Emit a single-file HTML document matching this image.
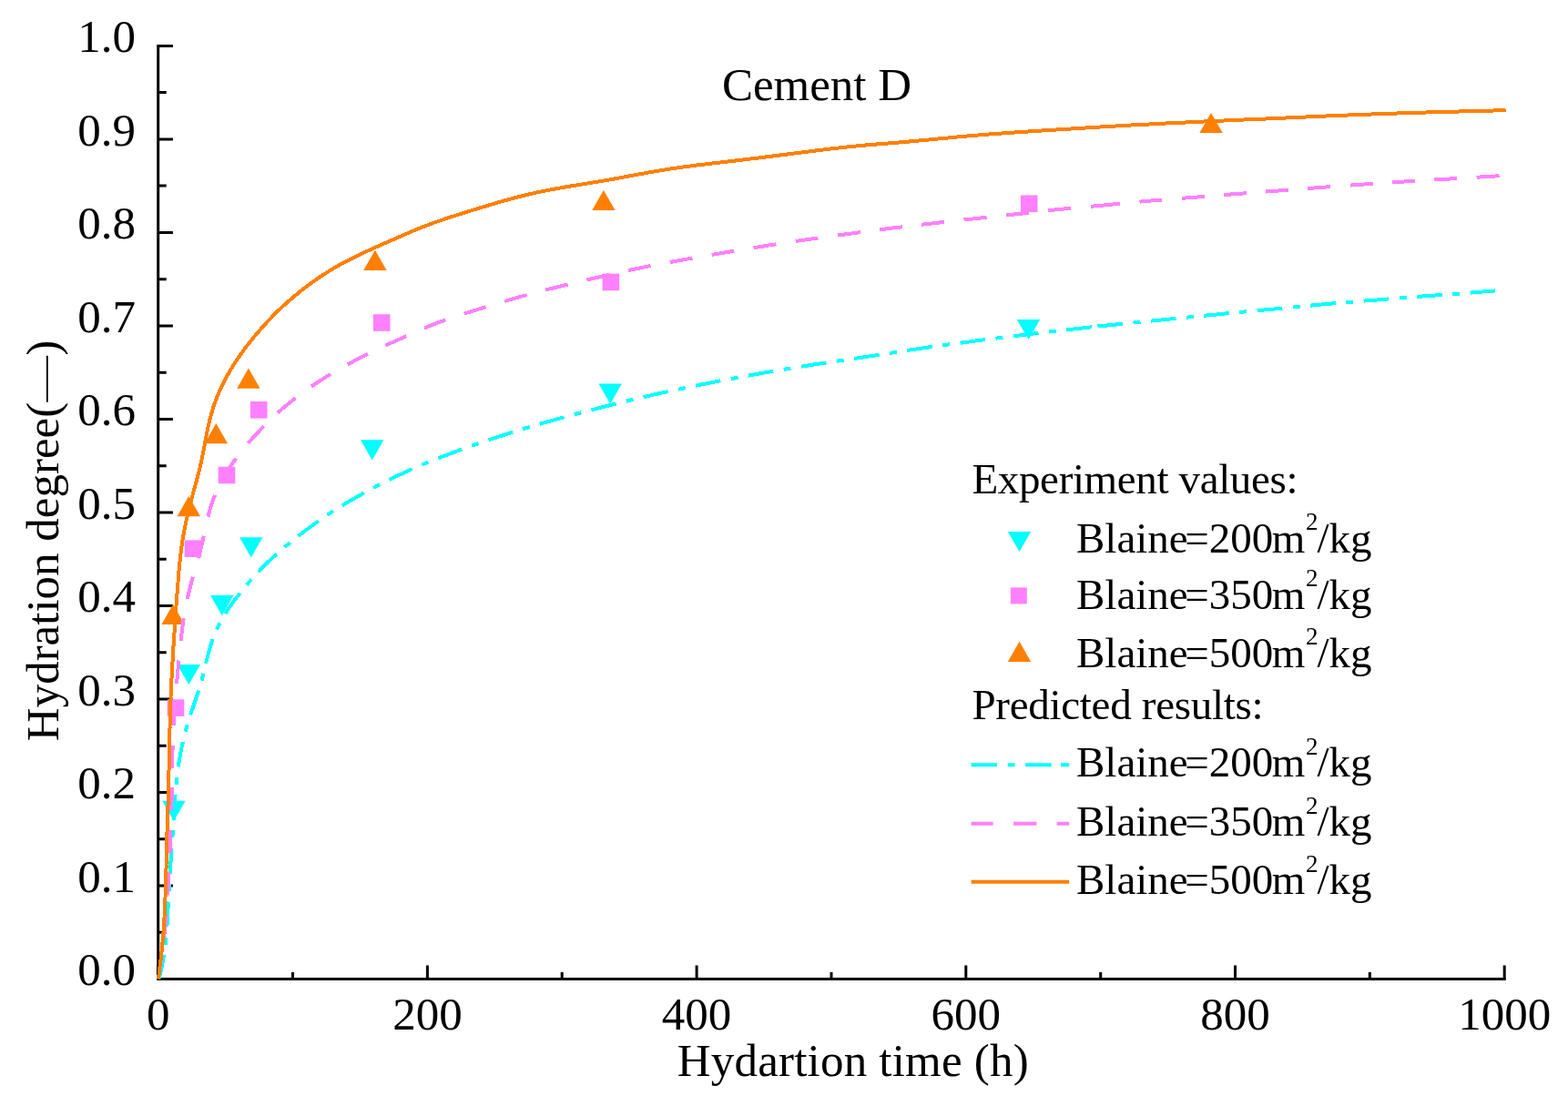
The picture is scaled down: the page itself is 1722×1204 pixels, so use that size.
<!DOCTYPE html>
<html><head><meta charset="utf-8"><title>Cement D</title><style>html,body{margin:0;padding:0;background:#fff;overflow:hidden}svg{display:block}text{font-family:"Liberation Serif", "Times New Roman", serif;fill:#000} .cjk{font-family:"WenQuanYi Zen Hei","Liberation Serif",sans-serif}</style></head><body>
<svg width="1722" height="1204" viewBox="0 0 1722 1204">
<rect width="1722" height="1204" fill="#fff"/>
<path d="M173.7,48.9 V1075.4 H1653.7" stroke="#000" stroke-width="3" fill="none" stroke-linejoin="miter"/>
<path d="M173.7,1075.4 h16.2 M173.7,1024.2 h9.0 M173.7,972.9 h16.2 M173.7,921.7 h9.0 M173.7,870.4 h16.2 M173.7,819.2 h9.0 M173.7,767.9 h16.2 M173.7,716.7 h9.0 M173.7,665.4 h16.2 M173.7,614.2 h9.0 M173.7,562.9 h16.2 M173.7,511.7 h9.0 M173.7,460.4 h16.2 M173.7,409.2 h9.0 M173.7,357.9 h16.2 M173.7,306.7 h9.0 M173.7,255.4 h16.2 M173.7,204.1 h9.0 M173.7,152.9 h16.2 M173.7,101.6 h9.0 M173.7,50.4 h16.2 M173.7,1075.4 v-15.0 M321.5,1075.4 v-7.5 M469.4,1075.4 v-15.0 M617.2,1075.4 v-7.5 M765.1,1075.4 v-15.0 M913.0,1075.4 v-7.5 M1060.8,1075.4 v-15.0 M1208.7,1075.4 v-7.5 M1356.5,1075.4 v-15.0 M1504.3,1075.4 v-7.5 M1652.2,1075.4 v-15.0" stroke="#000" stroke-width="3" fill="none"/>
<polygon points="178.2,879.7 203.6,879.7 190.9,901.9" fill="#00FFFF"/>
<polygon points="194.6,729.9 220.0,729.9 207.3,752.1" fill="#00FFFF"/>
<polygon points="231.1,654.0 256.5,654.0 243.8,676.2" fill="#00FFFF"/>
<polygon points="263.1,590.2 288.5,590.2 275.8,612.4" fill="#00FFFF"/>
<polygon points="396.0,483.3 421.4,483.3 408.7,505.5" fill="#00FFFF"/>
<polygon points="657.5,421.5 682.9,421.5 670.2,443.7" fill="#00FFFF"/>
<polygon points="1116.8,350.9 1142.2,350.9 1129.5,373.1" fill="#00FFFF"/>
<rect x="183.7" y="768.3" width="18.6" height="18.6" fill="#FF80FF"/>
<rect x="202.7" y="593.4" width="18.6" height="18.6" fill="#FF80FF"/>
<rect x="239.7" y="512.7" width="18.6" height="18.6" fill="#FF80FF"/>
<rect x="274.9" y="441.0" width="18.6" height="18.6" fill="#FF80FF"/>
<rect x="409.9" y="345.2" width="18.6" height="18.6" fill="#FF80FF"/>
<rect x="661.6" y="300.6" width="18.6" height="18.6" fill="#FF80FF"/>
<rect x="1120.9" y="214.5" width="18.6" height="18.6" fill="#FF80FF"/>
<polygon points="190.1,663.8 202.8,686.0 177.4,686.0" fill="#FF8000"/>
<polygon points="207.3,545.1 220.0,567.3 194.6,567.3" fill="#FF8000"/>
<polygon points="237.3,465.0 250.0,487.2 224.6,487.2" fill="#FF8000"/>
<polygon points="272.9,404.6 285.6,426.8 260.2,426.8" fill="#FF8000"/>
<polygon points="411.9,274.7 424.6,296.9 399.2,296.9" fill="#FF8000"/>
<polygon points="662.9,208.9 675.6,231.1 650.2,231.1" fill="#FF8000"/>
<polygon points="1330.0,123.9 1342.7,146.1 1317.3,146.1" fill="#FF8000"/>
<g fill="none" stroke-width="4" stroke-linejoin="round" shape-rendering="crispEdges">
<path d="M1652.0,318.6 L1650.0,318.8 L1648.0,318.9 L1646.0,319.1 L1644.0,319.2 L1642.0,319.4 L1640.0,319.6 L1638.0,319.7 L1636.0,319.9 L1634.0,320.0 L1632.1,320.2 L1630.1,320.4 L1628.1,320.5 L1626.1,320.7 L1624.1,320.9 L1622.1,321.0 L1620.1,321.2 L1618.1,321.3 L1616.1,321.5 L1614.1,321.7 L1612.1,321.8 L1610.1,322.0 L1608.1,322.1 L1606.1,322.3 L1604.1,322.4 L1602.1,322.6 L1600.1,322.7 L1598.1,322.9 L1596.1,323.0 L1594.2,323.2 L1592.2,323.3 L1590.2,323.5 L1588.2,323.6 L1586.2,323.8 L1584.2,323.9 L1582.2,324.1 L1580.2,324.2 L1578.2,324.3 L1576.2,324.5 L1574.2,324.6 L1572.2,324.8 L1570.2,324.9 L1568.2,325.1 L1566.2,325.2 L1564.2,325.4 L1562.2,325.5 L1560.2,325.7 L1558.2,325.8 L1556.2,326.0 L1554.2,326.1 L1552.2,326.3 L1550.3,326.4 L1548.3,326.6 L1546.3,326.8 L1544.3,326.9 L1542.3,327.1 L1540.3,327.2 L1538.3,327.4 L1536.3,327.5 L1534.3,327.7 L1532.3,327.9 L1530.3,328.0 L1528.3,328.2 L1526.3,328.3 L1524.3,328.5 L1522.3,328.7 L1520.3,328.8 L1518.3,329.0 L1516.3,329.1 L1514.3,329.3 L1512.4,329.5 L1510.4,329.6 L1508.4,329.8 L1506.4,330.0 L1504.4,330.1 L1502.4,330.3 L1500.4,330.4 L1498.4,330.6 L1496.4,330.8 L1494.4,330.9 L1492.4,331.1 L1490.4,331.3 L1488.4,331.4 L1486.4,331.6 L1484.4,331.7 L1482.4,331.9 L1480.4,332.1 L1478.5,332.2 L1476.5,332.4 L1474.5,332.5 L1472.5,332.7 L1470.5,332.9 L1468.5,333.0 L1466.5,333.2 L1464.5,333.3 L1462.5,333.5 L1460.5,333.7 L1458.5,333.9 L1456.5,334.0 L1454.5,334.2 L1452.5,334.4 L1450.5,334.6 L1448.5,334.7 L1446.6,334.9 L1444.6,335.1 L1442.6,335.3 L1440.6,335.5 L1438.6,335.7 L1436.6,335.9 L1434.6,336.1 L1432.6,336.3 L1430.6,336.5 L1428.6,336.7 L1426.6,336.9 L1424.7,337.1 L1422.7,337.3 L1420.7,337.5 L1418.7,337.6 L1416.7,337.8 L1414.7,338.0 L1412.7,338.2 L1410.7,338.4 L1408.7,338.6 L1406.7,338.8 L1404.7,338.9 L1402.7,339.1 L1400.8,339.3 L1398.8,339.5 L1396.8,339.7 L1394.8,339.8 L1392.8,340.0 L1390.8,340.2 L1388.8,340.4 L1386.8,340.6 L1384.8,340.7 L1382.8,340.9 L1380.8,341.1 L1378.8,341.3 L1376.8,341.5 L1374.8,341.6 L1372.9,341.8 L1370.9,342.0 L1368.9,342.2 L1366.9,342.4 L1364.9,342.6 L1362.9,342.8 L1360.9,343.0 L1358.9,343.2 L1356.9,343.3 L1354.9,343.5 L1352.9,343.7 L1350.9,343.9 L1349.0,344.1 L1347.0,344.3 L1345.0,344.5 L1343.0,344.7 L1341.0,344.9 L1339.0,345.1 L1337.0,345.4 L1335.0,345.6 L1333.0,345.7 L1331.0,345.9 L1329.0,346.1 L1327.1,346.3 L1325.1,346.5 L1323.1,346.7 L1321.1,346.9 L1319.1,347.1 L1317.1,347.3 L1315.1,347.5 L1313.1,347.7 L1311.1,347.9 L1309.1,348.1 L1307.1,348.3 L1305.1,348.5 L1303.2,348.7 L1301.2,348.9 L1299.2,349.1 L1297.2,349.3 L1295.2,349.5 L1293.2,349.7 L1291.2,349.9 L1289.2,350.1 L1287.2,350.3 L1285.2,350.5 L1283.2,350.7 L1281.3,350.9 L1279.3,351.1 L1277.3,351.3 L1275.3,351.5 L1273.3,351.7 L1271.3,351.9 L1269.3,352.1 L1267.3,352.3 L1265.3,352.5 L1263.3,352.7 L1261.3,352.9 L1259.4,353.1 L1257.4,353.3 L1255.4,353.5 L1253.4,353.7 L1251.4,353.9 L1249.4,354.1 L1247.4,354.3 L1245.4,354.5 L1243.4,354.7 L1241.4,354.9 L1239.4,355.1 L1237.5,355.3 L1235.5,355.5 L1233.5,355.7 L1231.5,355.9 L1229.5,356.1 L1227.5,356.3 L1225.5,356.5 L1223.5,356.7 L1221.5,356.9 L1219.5,357.1 L1217.5,357.3 L1215.6,357.5 L1213.6,357.7 L1211.6,357.9 L1209.6,358.1 L1207.6,358.3 L1205.6,358.5 L1203.6,358.8" stroke="#00FFFF" stroke-dasharray="27.86 11.44 7.96 11.44" stroke-dashoffset="49.0"/>
<path d="M1201.6,359.0 L1199.6,359.2 L1197.6,359.4 L1195.7,359.6 L1193.7,359.8 L1191.7,360.1 L1189.7,360.3 L1187.7,360.5 L1185.7,360.7 L1183.7,360.9 L1181.7,361.1 L1179.7,361.4 L1177.8,361.6 L1175.8,361.8 L1173.8,362.0 L1171.8,362.3 L1169.8,362.5 L1167.8,362.7 L1165.8,362.9 L1163.8,363.2 L1161.9,363.4 L1159.9,363.6 L1157.9,363.8 L1155.9,364.1 L1153.9,364.3 L1151.9,364.5 L1149.9,364.8 L1147.9,365.0 L1146.0,365.2 L1144.0,365.5 L1142.0,365.7 L1140.0,366.0 L1138.0,366.2 L1136.0,366.4 L1134.0,366.7 L1132.0,366.9 L1130.1,367.2 L1128.1,367.4 L1126.1,367.6 L1124.1,367.9 L1122.1,368.1 L1120.1,368.4 L1118.1,368.6 L1116.2,368.9 L1114.2,369.1 L1112.2,369.3 L1110.2,369.6 L1108.2,369.8 L1106.2,370.1 L1104.2,370.3 L1102.3,370.6 L1100.3,370.8 L1098.3,371.1 L1096.3,371.3 L1094.3,371.6 L1092.3,371.8 L1090.3,372.1 L1088.4,372.3 L1086.4,372.6 L1084.4,372.8 L1082.4,373.1 L1080.4,373.3 L1078.4,373.6 L1076.4,373.9 L1074.5,374.1 L1072.5,374.4 L1070.5,374.6 L1068.5,374.9 L1066.5,375.2 L1064.5,375.4 L1062.6,375.7 L1060.6,376.0 L1058.6,376.2 L1056.6,376.5 L1054.6,376.7 L1052.6,377.0 L1050.7,377.3 L1048.7,377.5 L1046.7,377.8 L1044.7,378.1 L1042.7,378.3 L1040.7,378.6 L1038.8,378.9 L1036.8,379.2 L1034.8,379.4 L1032.8,379.7 L1030.8,380.0 L1028.8,380.2 L1026.9,380.5 L1024.9,380.8 L1022.9,381.1 L1020.9,381.3 L1018.9,381.6 L1017.0,381.9 L1015.0,382.2 L1013.0,382.5 L1011.0,382.8 L1009.0,383.1 L1007.1,383.3 L1005.1,383.6 L1003.1,383.9 L1001.1,384.2 L999.1,384.5 L997.2,384.8 L995.2,385.2 L993.2,385.5 L991.2,385.8 L989.3,386.1 L987.3,386.4 L985.3,386.7 L983.3,387.0 L981.4,387.3 L979.4,387.6 L977.4,387.9 L975.4,388.2 L973.4,388.5 L971.5,388.9 L969.5,389.2 L967.5,389.5 L965.5,389.8 L963.6,390.1 L961.6,390.4 L959.6,390.7 L957.6,391.0 L955.6,391.3 L953.7,391.6 L951.7,391.9 L949.7,392.2 L947.7,392.5 L945.8,392.8 L943.8,393.1 L941.8,393.4 L939.8,393.7 L937.8,394.0 L935.9,394.3 L933.9,394.6 L931.9,394.8 L929.9,395.1 L927.9,395.4 L926.0,395.7 L924.0,396.0 L922.0,396.3 L920.0,396.6 L918.0,396.9 L916.1,397.2 L914.1,397.5 L912.1,397.8 L910.1,398.0 L908.1,398.3 L906.2,398.6 L904.2,398.9 L902.2,399.2 L900.2,399.5 L898.2,399.8 L896.3,400.1 L894.3,400.4 L892.3,400.7 L890.3,401.0 L888.4,401.3 L886.4,401.7 L884.4,402.0 L882.4,402.3 L880.5,402.6 L878.5,402.9 L876.5,403.2 L874.5,403.5 L872.6,403.9 L870.6,404.2 L868.6,404.5 L866.6,404.8 L864.7,405.2 L862.7,405.5 L860.7,405.8 L858.7,406.2 L856.8,406.5 L854.8,406.8 L852.8,407.2 L850.8,407.5 L848.9,407.8 L846.9,408.2 L844.9,408.5 L843.0,408.9 L841.0,409.2 L839.0,409.5 L837.0,409.9 L835.1,410.2 L833.1,410.6 L831.1,410.9 L829.2,411.3 L827.2,411.7 L825.2,412.0 L823.3,412.4 L821.3,412.7 L819.3,413.1 L817.4,413.5 L815.4,413.8 L813.4,414.2 L811.5,414.6 L809.5,414.9 L807.5,415.3 L805.6,415.7 L803.6,416.0 L801.6,416.4 L799.7,416.8 L797.7,417.1 L795.7,417.5 L793.8,417.9 L791.8,418.2 L789.8,418.6 L787.9,419.0 L785.9,419.4 L783.9,419.7 L782.0,420.1 L780.0,420.5 L778.0,420.9 L776.1,421.3 L774.1,421.7 L772.1,422.1 L770.2,422.4 L768.2,422.8 L766.3,423.2 L764.3,423.7 L762.3,424.1 L760.4,424.5 L758.4,424.9 L756.5,425.3 L754.5,425.7 L752.6,426.1 L750.6,426.5 L748.6,426.9 L746.7,427.3 L744.7,427.8 L742.8,428.2 L740.8,428.6 L738.9,429.0 L736.9,429.4 L734.9,429.9 L733.0,430.3 L731.0,430.7 L729.1,431.1 L727.1,431.5 L725.2,432.0 L723.2,432.4 L721.3,432.8 L719.3,433.3 L717.3,433.7 L715.4,434.1 L713.4,434.6 L711.5,435.0 L709.5,435.5 L707.6,435.9 L705.6,436.4 L703.7,436.8 L701.8,437.3 L699.8,437.8 L697.9,438.2 L695.9,438.7 L694.0,439.2 L692.0,439.6 L690.1,440.1 L688.1,440.6 L686.2,441.1 L684.3,441.5 L682.3,442.0 L680.4,442.5 L678.4,443.0 L676.5,443.5 L674.6,444.0 L672.6,444.5 L670.7,445.0 L668.7,445.4 L666.8,445.9 L664.9,446.4 L662.9,446.9 L661.0,447.4 L659.0,447.9 L657.1,448.4 L655.2,448.9 L653.2,449.4 L651.3,449.9 L649.4,450.4 L647.4,450.8 L645.5,451.3 L643.5,451.8 L641.6,452.4 L639.7,452.9 L637.7,453.4 L635.8,453.9 L633.9,454.4 L631.9,454.9 L630.0,455.4 L628.1,455.9 L626.1,456.5 L624.2,457.0 L622.3,457.5 L620.4,458.1 L618.4,458.6 L616.5,459.1 L614.6,459.6 L612.6,460.2 L610.7,460.7 L608.8,461.3 L606.9,461.8 L604.9,462.3 L603.0,462.9 L601.1,463.4 L599.2,464.0 L597.2,464.5 L595.3,465.1 L593.4,465.6 L591.5,466.2 L589.5,466.7 L587.6,467.3 L585.7,467.8 L583.8,468.4 L581.9,469.0 L579.9,469.6 L578.0,470.1 L576.1,470.7 L574.2,471.3 L572.3,471.9 L570.4,472.5 L568.5,473.1 L566.6,473.7 L564.6,474.3 L562.7,474.9 L560.8,475.5 L558.9,476.1 L557.0,476.7 L555.1,477.3 L553.2,477.9 L551.3,478.5 L549.4,479.1 L547.5,479.7 L545.6,480.4 L543.7,481.0 L541.8,481.6 L539.9,482.2 L538.0,482.9 L536.1,483.5 L534.2,484.1 L532.3,484.8 L530.4,485.4 L528.5,486.1 L526.6,486.7 L524.7,487.4 L522.8,488.0 L520.9,488.7 L519.1,489.3 L517.2,490.0 L515.3,490.7 L513.4,491.4 L511.5,492.0 L509.6,492.7 L507.8,493.4 L505.9,494.1 L504.0,494.8 L502.1,495.5 L500.2,496.2 L498.4,496.9 L496.5,497.5 L494.6,498.3 L492.8,499.0 L490.9,499.7 L489.0,500.4 L487.1,501.1 L485.3,501.8 L483.4,502.5 L481.5,503.3 L479.7,504.0 L477.8,504.7 L476.0,505.5 L474.1,506.2 L472.2,507.0 L470.4,507.7 L468.5,508.5 L466.7,509.2 L464.8,510.0 L463.0,510.8 L461.2,511.6 L459.3,512.3 L457.5,513.1 L455.6,513.9 L453.8,514.7 L452.0,515.5 L450.2,516.3 L448.3,517.2 L446.5,518.0 L444.7,518.8 L442.9,519.7 L441.1,520.5 L439.3,521.4 L437.4,522.2 L435.6,523.1 L433.8,523.9 L432.0,524.8 L430.2,525.7 L428.4,526.6 L426.7,527.5 L424.9,528.4 L423.1,529.3 L421.3,530.2 L419.5,531.1 L417.7,532.0 L415.9,532.9 L414.2,533.8 L412.4,534.8 L410.6,535.7 L408.9,536.6 L407.1,537.6 L405.3,538.5 L403.6,539.5 L401.8,540.4 L400.0,541.4 L398.3,542.3 L396.5,543.3 L394.8,544.3 L393.0,545.3 L391.3,546.2 L389.6,547.2 L387.8,548.2 L386.1,549.2 L384.4,550.2 L382.6,551.2 L380.9,552.3 L379.2,553.3 L377.5,554.3 L375.8,555.3 L374.1,556.4 L372.4,557.4 L370.7,558.5 L369.0,559.6 L367.3,560.6 L365.6,561.7 L363.9,562.8 L362.2,563.9 L360.6,565.0 L358.9,566.1 L357.3,567.2 L355.6,568.4 L353.9,569.5 L352.3,570.6 L350.7,571.8 L349.0,572.9 L347.4,574.1 L345.8,575.2 L344.1,576.4 L342.5,577.6 L340.9,578.8 L339.3,580.0 L337.7,581.1 L336.1,582.3 L334.5,583.5 L332.9,584.8 L331.3,586.0 L329.7,587.2 L328.1,588.4 L326.5,589.6 L325.0,590.9 L323.4,592.1 L321.8,593.4 L320.3,594.6 L318.7,595.9 L317.2,597.2 L315.6,598.5 L314.1,599.7 L312.6,601.0 L311.1,602.3 L309.5,603.6 L308.0,604.9 L306.5,606.3 L305.0,607.6 L303.5,608.9 L302.1,610.3 L300.6,611.6 L299.1,613.0 L297.6,614.3 L296.2,615.7 L294.7,617.1 L293.3,618.5 L291.9,619.9 L290.5,621.3 L289.0,622.7 L287.6,624.1 L286.2,625.6 L284.9,627.0 L283.5,628.5 L282.1,629.9 L280.8,631.4 L279.4,632.9 L278.1,634.4 L276.7,635.9 L275.4,637.4 L274.1,638.9 L272.8,640.4 L271.5,641.9 L270.2,643.4 L268.9,645.0 L267.7,646.5 L266.4,648.1 L265.1,649.6 L263.9,651.2 L262.6,652.8 L261.4,654.4 L260.2,655.9 L259.0,657.5 L257.8,659.1 L256.6,660.7 L255.4,662.3 L254.2,664.0 L253.1,665.6 L251.9,667.3 L250.8,668.9 L249.7,670.6 L248.7,672.2 L247.6,673.9 L246.5,675.6 L245.5,677.3 L244.5,679.1 L243.5,680.8 L242.6,682.5 L241.6,684.3 L240.7,686.1 L239.8,687.8 L239.0,689.6 L238.1,691.4 L237.3,693.2 L236.5,695.1 L235.8,696.9 L235.0,698.7 L234.3,700.6 L233.6,702.5 L233.0,704.3 L232.3,706.2 L231.7,708.1 L231.1,710.0 L230.5,711.9 L230.0,713.8 L229.4,715.7 L228.9,717.7 L228.4,719.6 L227.9,721.5 L227.4,723.5 L226.9,725.4 L226.5,727.3 L226.0,729.3 L225.5,731.2 L225.1,733.2 L224.6,735.1 L224.1,737.0 L223.7,739.0 L223.2,740.9 L222.7,742.8 L222.2,744.8 L221.7,746.7 L221.1,748.6 L220.6,750.5 L220.0,752.5 L219.5,754.4 L218.9,756.3 L218.3,758.2 L217.7,760.1 L217.1,762.0 L216.4,763.9 L215.8,765.8 L215.2,767.6 L214.5,769.5 L213.9,771.4 L213.2,773.3 L212.5,775.2 L211.9,777.1 L211.2,779.0 L210.6,780.8 L209.9,782.7 L209.3,784.6 L208.7,786.5 L208.1,788.4 L207.5,790.3 L206.9,792.2 L206.3,794.1 L205.7,796.1 L205.2,798.0 L204.6,799.9 L204.1,801.8 L203.6,803.8 L203.1,805.7 L202.6,807.6 L202.1,809.6 L201.6,811.5 L201.2,813.5 L200.7,815.4 L200.3,817.4 L199.9,819.3 L199.5,821.3 L199.1,823.2 L198.7,825.2 L198.3,827.1 L198.0,829.1 L197.6,831.1 L197.3,833.1 L197.0,835.0 L196.6,837.0 L196.3,839.0 L196.0,841.0 L195.8,842.9 L195.5,844.9 L195.2,846.9 L195.0,848.9 L194.7,850.9 L194.5,852.9 L194.3,854.8 L194.1,856.8 L193.9,858.8 L193.7,860.8 L193.5,862.8 L193.3,864.8 L193.1,866.8 L192.9,868.8 L192.8,870.8 L192.6,872.8 L192.4,874.8 L192.3,876.8 L192.1,878.8 L192.0,880.8 L191.9,882.8 L191.7,884.8 L191.6,886.8 L191.4,888.8 L191.3,890.7 L191.2,892.7 L191.0,894.7 L190.9,896.7 L190.8,898.7 L190.7,900.7 L190.5,902.7 L190.4,904.7 L190.3,906.7 L190.1,908.7 L190.0,910.7 L189.9,912.7 L189.7,914.7 L189.6,916.7 L189.5,918.7 L189.3,920.7 L189.2,922.7 L189.0,924.7 L188.9,926.7 L188.8,928.7 L188.6,930.7 L188.5,932.7 L188.3,934.7 L188.2,936.7 L188.1,938.7 L187.9,940.7 L187.8,942.7 L187.7,944.7 L187.5,946.7 L187.4,948.7 L187.3,950.7 L187.1,952.7 L187.0,954.7 L186.9,956.7 L186.7,958.7 L186.6,960.7 L186.5,962.7 L186.4,964.7 L186.3,966.6 L186.1,968.6 L186.0,970.6 L185.9,972.6 L185.8,974.6 L185.7,976.6 L185.5,978.6 L185.4,980.6 L185.3,982.6 L185.2,984.6 L185.1,986.6 L185.0,988.6 L184.9,990.6 L184.8,992.6 L184.7,994.6 L184.6,996.6 L184.5,998.6 L184.4,1000.6 L184.3,1002.6 L184.2,1004.6 L184.1,1006.6 L184.0,1008.6 L183.9,1010.6 L183.8,1012.6 L183.6,1014.6 L183.5,1016.6 L183.4,1018.6 L183.2,1020.6 L183.1,1022.6 L182.9,1024.6 L182.7,1026.6 L182.6,1028.6 L182.4,1030.6 L182.2,1032.5 L182.0,1034.5 L181.8,1036.5 L181.5,1038.5 L181.3,1040.5 L181.0,1042.4 L180.7,1044.4 L180.4,1046.4 L180.1,1048.3 L179.8,1050.3 L179.5,1052.3 L179.2,1054.2 L178.8,1056.2 L178.4,1058.1 L178.1,1060.1 L177.7,1062.0 L177.3,1064.0 L176.9,1065.9 L176.4,1067.9 L176.0,1069.8 L175.6,1071.7 L175.1,1073.7 L173.7,1075.4" stroke="#00FFFF" stroke-dasharray="27.93 11.47 7.98 11.47" stroke-dashoffset="56.2"/>
<path d="M1652.0,192.8 L1650.0,193.0 L1648.0,193.1 L1646.0,193.2 L1644.0,193.3 L1642.0,193.5 L1640.0,193.6 L1638.0,193.7 L1636.0,193.8 L1634.0,194.0 L1632.0,194.1 L1630.0,194.2 L1628.0,194.3 L1626.0,194.4 L1624.0,194.6 L1622.1,194.7 L1620.1,194.8 L1618.1,194.9 L1616.1,195.1 L1614.1,195.2 L1612.1,195.3 L1610.1,195.4 L1608.1,195.5 L1606.1,195.6 L1604.1,195.8 L1602.1,195.9 L1600.1,196.0 L1598.1,196.1 L1596.1,196.2 L1594.1,196.4 L1592.1,196.5 L1590.1,196.6 L1588.1,196.7 L1586.1,196.8 L1584.1,197.0 L1582.1,197.1 L1580.1,197.2 L1578.1,197.3 L1576.1,197.4 L1574.1,197.5 L1572.1,197.7 L1570.1,197.8 L1568.1,197.9 L1566.1,198.0 L1564.1,198.1 L1562.1,198.3 L1560.1,198.4 L1558.1,198.5 L1556.2,198.6 L1554.2,198.8 L1552.2,198.9 L1550.2,199.0 L1548.2,199.1 L1546.2,199.3 L1544.2,199.4 L1542.2,199.5 L1540.2,199.6 L1538.2,199.8 L1536.2,199.9 L1534.2,200.0 L1532.2,200.2 L1530.2,200.3 L1528.2,200.4 L1526.2,200.6 L1524.2,200.7 L1522.2,200.8 L1520.2,201.0 L1518.2,201.1 L1516.2,201.2 L1514.2,201.4 L1512.2,201.5 L1510.2,201.6 L1508.2,201.8 L1506.2,201.9 L1504.3,202.1 L1502.3,202.2 L1500.3,202.3 L1498.3,202.5 L1496.3,202.6 L1494.3,202.8 L1492.3,202.9 L1490.3,203.0 L1488.3,203.2 L1486.3,203.3 L1484.3,203.5 L1482.3,203.6 L1480.3,203.8 L1478.3,203.9 L1476.3,204.1 L1474.3,204.2 L1472.3,204.3 L1470.3,204.5 L1468.3,204.6 L1466.3,204.8 L1464.3,204.9 L1462.3,205.1 L1460.4,205.2 L1458.4,205.4 L1456.4,205.5 L1454.4,205.7 L1452.4,205.8 L1450.4,206.0 L1448.4,206.1 L1446.4,206.3 L1444.4,206.4 L1442.4,206.6 L1440.4,206.7 L1438.4,206.9 L1436.4,207.0 L1434.4,207.2 L1432.4,207.4 L1430.4,207.5 L1428.4,207.7 L1426.4,207.8 L1424.4,208.0 L1422.5,208.1 L1420.5,208.3 L1418.5,208.4 L1416.5,208.6 L1414.5,208.7 L1412.5,208.9 L1410.5,209.0 L1408.5,209.2 L1406.5,209.3 L1404.5,209.5 L1402.5,209.6 L1400.5,209.8 L1398.5,209.9 L1396.5,210.1 L1394.5,210.2 L1392.5,210.4 L1390.5,210.5 L1388.5,210.7 L1386.5,210.8 L1384.6,211.0 L1382.6,211.1 L1380.6,211.3 L1378.6,211.4 L1376.6,211.6 L1374.6,211.7 L1372.6,211.9 L1370.6,212.0 L1368.6,212.2 L1366.6,212.4 L1364.6,212.5 L1362.6,212.7 L1360.6,212.8 L1358.6,213.0 L1356.6,213.1 L1354.6,213.3 L1352.6,213.4 L1350.6,213.6 L1348.6,213.8 L1346.7,213.9 L1344.7,214.1 L1342.7,214.2 L1340.7,214.4 L1338.7,214.6 L1336.7,214.7 L1334.7,214.9 L1332.7,215.0 L1330.7,215.2 L1328.7,215.4 L1326.7,215.5 L1324.7,215.7 L1322.7,215.9 L1320.7,216.0 L1318.7,216.2 L1316.7,216.3 L1314.7,216.5 L1312.8,216.6 L1310.8,216.8 L1308.8,217.0 L1306.8,217.1 L1304.8,217.3 L1302.8,217.4 L1300.8,217.6 L1298.8,217.7 L1296.8,217.9 L1294.8,218.0 L1292.8,218.2 L1290.8,218.3 L1288.8,218.5 L1286.8,218.7 L1284.8,218.8 L1282.8,219.0 L1280.8,219.1 L1278.9,219.3 L1276.9,219.4 L1274.9,219.6 L1272.9,219.8 L1270.9,219.9 L1268.9,220.1 L1266.9,220.3 L1264.9,220.4 L1262.9,220.6 L1260.9,220.8 L1258.9,221.0 L1256.9,221.2 L1254.9,221.3 L1252.9,221.5 L1251.0,221.7 L1249.0,221.9 L1247.0,222.1 L1245.0,222.3 L1243.0,222.5 L1241.0,222.7 L1239.0,222.9 L1237.0,223.1 L1235.0,223.3 L1233.0,223.5 L1231.0,223.7 L1229.1,223.9 L1227.1,224.1 L1225.1,224.2 L1223.1,224.4 L1221.1,224.6 L1219.1,224.8 L1217.1,225.0 L1215.1,225.2 L1213.1,225.4 L1211.1,225.6 L1209.1,225.8 L1207.1,226.0 L1205.2,226.1 L1203.2,226.3 L1201.2,226.5 L1199.2,226.7 L1197.2,226.9" stroke="#FF80FF" stroke-dasharray="25.00 21.40" stroke-dashoffset="40.9"/>
<path d="M1229.1,223.9 L1227.1,224.1 L1225.1,224.2 L1223.1,224.4 L1221.1,224.6 L1219.1,224.8 L1217.1,225.0 L1215.1,225.2 L1213.1,225.4 L1211.1,225.6 L1209.1,225.8 L1207.1,226.0 L1205.2,226.1 L1203.2,226.3 L1201.2,226.5 L1199.2,226.7 L1197.2,226.9 L1195.2,227.0 L1193.2,227.2 L1191.2,227.4 L1189.2,227.6 L1187.2,227.8 L1185.2,227.9 L1183.2,228.1 L1181.2,228.3 L1179.3,228.5 L1177.3,228.7 L1175.3,228.9 L1173.3,229.1 L1171.3,229.2 L1169.3,229.4 L1167.3,229.6 L1165.3,229.8 L1163.3,230.0 L1161.3,230.2 L1159.3,230.4 L1157.4,230.6 L1155.4,230.9 L1153.4,231.1 L1151.4,231.3 L1149.4,231.5 L1147.4,231.7 L1145.4,231.9 L1143.4,232.2 L1141.5,232.4 L1139.5,232.6 L1137.5,232.8 L1135.5,233.0 L1133.5,233.3 L1131.5,233.5 L1129.5,233.7 L1127.5,234.0 L1125.5,234.2 L1123.6,234.4 L1121.6,234.6 L1119.6,234.9 L1117.6,235.1 L1115.6,235.3 L1113.6,235.5 L1111.6,235.7 L1109.6,236.0 L1107.7,236.2 L1105.7,236.4 L1103.7,236.6 L1101.7,236.8 L1099.7,237.0 L1097.7,237.3 L1095.7,237.5 L1093.7,237.7 L1091.7,237.9 L1089.8,238.1 L1087.8,238.3 L1085.8,238.5 L1083.8,238.8 L1081.8,239.0 L1079.8,239.2 L1077.8,239.4 L1075.8,239.6 L1073.8,239.8 L1071.9,240.0 L1069.9,240.3 L1067.9,240.5 L1065.9,240.7 L1063.9,240.9 L1061.9,241.1 L1059.9,241.3 L1057.9,241.6 L1055.9,241.8 L1054.0,242.0 L1052.0,242.2 L1050.0,242.4 L1048.0,242.7 L1046.0,242.9 L1044.0,243.1 L1042.0,243.3 L1040.0,243.5 L1038.0,243.8 L1036.1,244.0 L1034.1,244.2 L1032.1,244.4 L1030.1,244.7 L1028.1,244.9 L1026.1,245.1 L1024.1,245.3 L1022.1,245.6 L1020.2,245.8 L1018.2,246.0 L1016.2,246.3 L1014.2,246.5 L1012.2,246.7 L1010.2,247.0 L1008.2,247.2 L1006.2,247.4 L1004.3,247.7 L1002.3,247.9 L1000.3,248.1 L998.3,248.4 L996.3,248.6 L994.3,248.8 L992.3,249.1 L990.4,249.3 L988.4,249.6 L986.4,249.8 L984.4,250.1 L982.4,250.3 L980.4,250.5 L978.4,250.8 L976.5,251.0 L974.5,251.3 L972.5,251.5 L970.5,251.8 L968.5,252.1 L966.5,252.3 L964.6,252.6 L962.6,252.8 L960.6,253.1 L958.6,253.3 L956.6,253.6 L954.6,253.9 L952.7,254.1 L950.7,254.4 L948.7,254.6 L946.7,254.9 L944.7,255.2 L942.7,255.4 L940.8,255.7 L938.8,256.0 L936.8,256.2 L934.8,256.5 L932.8,256.8 L930.8,257.0 L928.9,257.3 L926.9,257.6 L924.9,257.8 L922.9,258.1 L920.9,258.4 L918.9,258.6 L917.0,258.9 L915.0,259.2 L913.0,259.4 L911.0,259.7 L909.0,260.0 L907.1,260.3 L905.1,260.5 L903.1,260.8 L901.1,261.1 L899.1,261.4 L897.1,261.6 L895.2,261.9 L893.2,262.2 L891.2,262.5 L889.2,262.8 L887.2,263.1 L885.3,263.3 L883.3,263.6 L881.3,263.9 L879.3,264.2 L877.3,264.5 L875.4,264.8 L873.4,265.1 L871.4,265.4 L869.4,265.7 L867.5,266.0 L865.5,266.3 L863.5,266.6 L861.5,266.9 L859.5,267.2 L857.6,267.5 L855.6,267.8 L853.6,268.1 L851.6,268.4 L849.7,268.7 L847.7,269.0 L845.7,269.3 L843.7,269.6 L841.7,269.9 L839.8,270.3 L837.8,270.6 L835.8,270.9 L833.8,271.2 L831.9,271.5 L829.9,271.8 L827.9,272.2 L825.9,272.5 L824.0,272.8 L822.0,273.1 L820.0,273.4 L818.0,273.8 L816.1,274.1 L814.1,274.4 L812.1,274.7 L810.1,275.0 L808.2,275.4 L806.2,275.7 L804.2,276.0 L802.3,276.4 L800.3,276.7 L798.3,277.0 L796.3,277.4 L794.4,277.7 L792.4,278.0 L790.4,278.4 L788.4,278.7 L786.5,279.0 L784.5,279.4 L782.5,279.7 L780.6,280.0 L778.6,280.4 L776.6,280.7 L774.6,281.1 L772.7,281.4 L770.7,281.7 L768.7,282.1 L766.8,282.4 L764.8,282.8 L762.8,283.1 L760.8,283.5 L758.9,283.8 L756.9,284.2 L754.9,284.5 L753.0,284.9 L751.0,285.2 L749.0,285.6 L747.1,285.9 L745.1,286.3 L743.1,286.6 L741.2,287.0 L739.2,287.4 L737.2,287.7 L735.3,288.1 L733.3,288.4 L731.3,288.8 L729.4,289.2 L727.4,289.5 L725.4,289.9 L723.5,290.3 L721.5,290.7 L719.5,291.0 L717.6,291.4 L715.6,291.8 L713.6,292.2 L711.7,292.6 L709.7,293.0 L707.8,293.4 L705.8,293.8 L703.8,294.2 L701.9,294.6 L699.9,295.0 L698.0,295.4 L696.0,295.8 L694.0,296.2 L692.1,296.6 L690.1,297.1 L688.2,297.5 L686.2,297.9 L684.3,298.3 L682.3,298.8 L680.4,299.2 L678.4,299.7 L676.5,300.1 L674.5,300.5 L672.6,301.0 L670.6,301.4 L668.7,301.9 L666.7,302.3 L664.8,302.8 L662.8,303.2 L660.9,303.7 L658.9,304.1 L657.0,304.6 L655.0,305.0 L653.1,305.5 L651.1,305.9 L649.2,306.4 L647.2,306.8 L645.3,307.3 L643.3,307.8 L641.4,308.2 L639.4,308.7 L637.5,309.2 L635.5,309.6 L633.6,310.1 L631.6,310.5 L629.7,311.0 L627.8,311.5 L625.8,312.0 L623.9,312.4 L621.9,312.9 L620.0,313.4 L618.0,313.9 L616.1,314.3 L614.2,314.8 L612.2,315.3 L610.3,315.8 L608.3,316.3 L606.4,316.8 L604.5,317.2 L602.5,317.7 L600.6,318.2 L598.6,318.7 L596.7,319.2 L594.8,319.7 L592.8,320.2 L590.9,320.7 L589.0,321.2 L587.0,321.8 L585.1,322.3 L583.2,322.8 L581.2,323.3 L579.3,323.8 L577.4,324.4 L575.4,324.9 L573.5,325.4 L571.6,326.0 L569.7,326.5 L567.7,327.0 L565.8,327.6 L563.9,328.1 L562.0,328.7 L560.0,329.2 L558.1,329.8 L556.2,330.4 L554.3,330.9 L552.4,331.5 L550.4,332.1 L548.5,332.6 L546.6,333.2 L544.7,333.8 L542.8,334.4 L540.9,335.0 L538.9,335.5 L537.0,336.1 L535.1,336.7 L533.2,337.3 L531.3,337.9 L529.4,338.5 L527.5,339.1 L525.6,339.7 L523.6,340.3 L521.7,340.8 L519.8,341.4 L517.9,342.0 L516.0,342.6 L514.1,343.2 L512.2,343.8 L510.3,344.4 L508.4,345.0 L506.5,345.7 L504.6,346.3 L502.7,346.9 L500.8,347.5 L498.9,348.1 L497.0,348.8 L495.1,349.4 L493.2,350.1 L491.3,350.7 L489.4,351.4 L487.5,352.1 L485.7,352.7 L483.8,353.4 L481.9,354.1 L480.0,354.8 L478.2,355.6 L476.3,356.3 L474.5,357.0 L472.6,357.8 L470.8,358.5 L468.9,359.3 L467.1,360.1 L465.2,360.8 L463.4,361.6 L461.6,362.4 L459.7,363.2 L457.9,364.0 L456.1,364.8 L454.3,365.6 L452.4,366.4 L450.6,367.3 L448.8,368.1 L447.0,368.9 L445.1,369.7 L443.3,370.5 L441.5,371.4 L439.7,372.2 L437.8,373.0 L436.0,373.8 L434.2,374.7 L432.4,375.5 L430.5,376.3 L428.7,377.1 L426.9,378.0 L425.1,378.8 L423.3,379.7 L421.5,380.5 L419.6,381.3 L417.8,382.2 L416.0,383.1 L414.2,383.9 L412.4,384.8 L410.6,385.6 L408.8,386.5 L407.0,387.4 L405.2,388.3 L403.4,389.1 L401.6,390.0 L399.8,390.9 L398.0,391.8 L396.2,392.7 L394.5,393.6 L392.7,394.5 L390.9,395.5 L389.1,396.4 L387.4,397.3 L385.6,398.3 L383.8,399.2 L382.1,400.1 L380.3,401.1 L378.6,402.1 L376.8,403.0 L375.1,404.0 L373.3,405.0 L371.6,406.0 L369.8,407.0 L368.1,408.0 L366.4,409.0 L364.7,410.0 L362.9,411.0 L361.2,412.1 L359.5,413.1 L357.8,414.2 L356.1,415.2 L354.5,416.3 L352.8,417.4 L351.1,418.5 L349.4,419.6 L347.7,420.7 L346.1,421.8 L344.4,422.9 L342.8,424.0 L341.1,425.2 L339.5,426.3 L337.9,427.5 L336.2,428.6 L334.6,429.8 L333.0,431.0 L331.4,432.2 L329.8,433.3 L328.2,434.5 L326.6,435.8 L325.0,437.0 L323.4,438.2 L321.8,439.4 L320.3,440.7 L318.7,441.9 L317.1,443.2 L315.6,444.5 L314.1,445.7 L312.5,447.0 L311.0,448.3 L309.5,449.6 L308.0,450.9 L306.5,452.3 L305.0,453.6 L303.5,455.0 L302.1,456.3 L300.6,457.7 L299.1,459.0 L297.7,460.4 L296.2,461.8 L294.8,463.2 L293.4,464.6 L292.0,466.0 L290.5,467.4 L289.1,468.9 L287.7,470.3 L286.3,471.8 L285.0,473.2 L283.6,474.7 L282.2,476.1 L280.9,477.6 L279.5,479.1 L278.1,480.5 L276.8,482.0 L275.5,483.5 L274.1,485.0 L272.8,486.6 L271.5,488.1 L270.2,489.6 L268.9,491.1 L267.7,492.7 L266.4,494.2 L265.1,495.8 L263.9,497.4 L262.7,499.0 L261.5,500.6 L260.2,502.1 L259.1,503.8 L257.9,505.4 L256.7,507.0 L255.6,508.6 L254.4,510.3 L253.3,511.9 L252.2,513.6 L251.1,515.3 L250.0,517.0 L249.0,518.7 L247.9,520.4 L246.9,522.1 L245.9,523.8 L244.9,525.5 L244.0,527.3 L243.0,529.0 L242.1,530.8 L241.2,532.6 L240.3,534.3 L239.4,536.1 L238.6,537.9 L237.8,539.7 L237.0,541.6 L236.2,543.4 L235.5,545.2 L234.8,547.1 L234.1,548.9 L233.4,550.8 L232.8,552.7 L232.2,554.6 L231.6,556.5 L231.0,558.4 L230.4,560.3 L229.9,562.2 L229.4,564.1 L228.9,566.0 L228.4,568.0 L227.9,569.9 L227.5,571.8 L227.0,573.8 L226.6,575.7 L226.2,577.7 L225.8,579.6 L225.4,581.6 L224.9,583.5 L224.5,585.5 L224.1,587.5 L223.7,589.4 L223.2,591.4 L222.8,593.3 L222.3,595.2 L221.9,597.2 L221.4,599.1 L220.9,601.1 L220.4,603.0 L220.0,604.9 L219.4,606.9 L218.9,608.8 L218.4,610.7 L217.9,612.7 L217.3,614.6 L216.8,616.5 L216.3,618.4 L215.7,620.4 L215.2,622.3 L214.6,624.2 L214.0,626.1 L213.5,628.0 L212.9,630.0 L212.4,631.9 L211.8,633.8 L211.3,635.7 L210.8,637.7 L210.3,639.6 L209.8,641.5 L209.2,643.4 L208.8,645.4 L208.3,647.3 L207.8,649.3 L207.3,651.2 L206.9,653.1 L206.4,655.1 L206.0,657.0 L205.6,659.0 L205.2,660.9 L204.8,662.9 L204.4,664.9 L204.0,666.8 L203.6,668.8 L203.3,670.8 L202.9,672.7 L202.6,674.7 L202.2,676.7 L201.9,678.6 L201.6,680.6 L201.3,682.6 L201.0,684.6 L200.7,686.5 L200.5,688.5 L200.2,690.5 L199.9,692.5 L199.7,694.5 L199.4,696.5 L199.2,698.4 L199.0,700.4 L198.7,702.4 L198.5,704.4 L198.3,706.4 L198.1,708.4 L197.9,710.4 L197.7,712.4 L197.5,714.4 L197.3,716.3 L197.1,718.3 L196.9,720.3 L196.7,722.3 L196.5,724.3 L196.3,726.3 L196.2,728.3 L196.0,730.3 L195.8,732.3 L195.6,734.3 L195.4,736.3 L195.2,738.3 L195.0,740.3 L194.8,742.2 L194.7,744.2 L194.5,746.2 L194.3,748.2 L194.1,750.2 L194.0,752.2 L193.8,754.2 L193.6,756.2 L193.5,758.2 L193.3,760.2 L193.1,762.2 L193.0,764.2 L192.8,766.2 L192.7,768.2 L192.5,770.2 L192.4,772.2 L192.2,774.1 L192.1,776.1 L191.9,778.1 L191.8,780.1 L191.6,782.1 L191.5,784.1 L191.4,786.1 L191.2,788.1 L191.1,790.1 L191.0,792.1 L190.9,794.1 L190.7,796.1 L190.6,798.1 L190.5,800.1 L190.4,802.1 L190.3,804.1 L190.2,806.1 L190.1,808.1 L190.0,810.1 L189.9,812.1 L189.8,814.1 L189.7,816.1 L189.7,818.1 L189.6,820.1 L189.5,822.1 L189.5,824.1 L189.4,826.1 L189.4,828.1 L189.3,830.1 L189.3,832.1 L189.2,834.1 L189.2,836.1 L189.2,838.1 L189.1,840.1 L189.1,842.1 L189.1,844.1 L189.1,846.1 L189.0,848.1 L189.0,850.1 L189.0,852.1 L189.0,854.1 L188.9,856.1 L188.9,858.1 L188.9,860.1 L188.8,862.1 L188.8,864.1 L188.8,866.1 L188.7,868.1 L188.7,870.1 L188.6,872.1 L188.6,874.1 L188.6,876.1 L188.5,878.1 L188.5,880.1 L188.4,882.1 L188.3,884.1 L188.3,886.1 L188.2,888.1 L188.2,890.1 L188.1,892.1 L188.0,894.1 L188.0,896.1 L187.9,898.1 L187.9,900.1 L187.8,902.1 L187.7,904.1 L187.7,906.1 L187.6,908.1 L187.5,910.1 L187.4,912.1 L187.4,914.1 L187.3,916.0 L187.2,918.0 L187.1,920.0 L187.1,922.0 L187.0,924.0 L186.9,926.0 L186.8,928.0 L186.7,930.0 L186.7,932.0 L186.6,934.0 L186.5,936.0 L186.4,938.0 L186.3,940.0 L186.2,942.0 L186.1,944.0 L186.0,946.0 L185.9,948.0 L185.8,950.0 L185.8,952.0 L185.7,954.0 L185.6,956.0 L185.5,958.0 L185.3,960.0 L185.2,962.0 L185.1,964.0 L185.0,966.0 L184.9,968.0 L184.8,970.0 L184.7,972.0 L184.6,974.0 L184.4,976.0 L184.3,978.0 L184.2,980.0 L184.1,982.0 L183.9,984.0 L183.8,986.0 L183.7,988.0 L183.5,990.0 L183.4,992.0 L183.2,994.0 L183.1,996.0 L182.9,998.0 L182.8,999.9 L182.6,1001.9 L182.4,1003.9 L182.3,1005.9 L182.1,1007.9 L181.9,1009.9 L181.7,1011.9 L181.5,1013.9 L181.4,1015.9 L181.2,1017.9 L181.0,1019.9 L180.8,1021.9 L180.6,1023.9 L180.3,1025.8 L180.1,1027.8 L179.9,1029.8 L179.7,1031.8 L179.5,1033.8 L179.2,1035.8 L179.0,1037.8 L178.8,1039.7 L178.5,1041.7 L178.3,1043.7 L178.0,1045.7 L177.8,1047.7 L177.5,1049.7 L177.2,1051.7 L177.0,1053.6 L176.7,1055.6 L176.4,1057.6 L176.1,1059.6 L175.9,1061.6 L175.6,1063.5 L175.3,1065.5 L175.0,1067.5 L174.7,1069.5 L174.4,1071.5 L174.2,1073.4 L173.7,1075.4" stroke="#FF80FF" stroke-dasharray="25.12 21.51" stroke-dashoffset="40.2"/>
<path d="M173.7,1075.4 L174.1,1073.4 L174.4,1071.4 L174.7,1069.5 L174.9,1067.5 L175.2,1065.5 L175.4,1063.5 L175.6,1061.5 L175.9,1059.5 L176.1,1057.5 L176.4,1055.6 L176.6,1053.6 L176.8,1051.6 L177.1,1049.6 L177.3,1047.6 L177.5,1045.6 L177.7,1043.6 L177.9,1041.6 L178.1,1039.7 L178.3,1037.7 L178.5,1035.7 L178.7,1033.7 L178.9,1031.7 L179.0,1029.7 L179.2,1027.7 L179.3,1025.7 L179.5,1023.7 L179.6,1021.7 L179.8,1019.7 L179.9,1017.7 L180.0,1015.7 L180.2,1013.7 L180.3,1011.7 L180.4,1009.7 L180.5,1007.7 L180.6,1005.7 L180.7,1003.7 L180.8,1001.7 L180.9,999.7 L181.0,997.7 L181.1,995.7 L181.2,993.7 L181.3,991.7 L181.3,989.7 L181.4,987.7 L181.5,985.7 L181.6,983.7 L181.6,981.7 L181.7,979.7 L181.8,977.7 L181.8,975.7 L181.9,973.7 L182.0,971.7 L182.0,969.7 L182.1,967.7 L182.1,965.7 L182.2,963.7 L182.2,961.7 L182.3,959.7 L182.4,957.7 L182.4,955.7 L182.5,953.7 L182.5,951.7 L182.5,949.7 L182.6,947.7 L182.6,945.7 L182.7,943.7 L182.7,941.7 L182.8,939.7 L182.8,937.7 L182.9,935.7 L182.9,933.7 L183.0,931.7 L183.0,929.7 L183.1,927.7 L183.1,925.7 L183.2,923.7 L183.3,921.7 L183.3,919.7 L183.4,917.7 L183.4,915.7 L183.5,913.7 L183.6,911.7 L183.7,909.7 L183.7,907.7 L183.8,905.7 L183.9,903.7 L183.9,901.7 L184.0,899.7 L184.1,897.7 L184.2,895.7 L184.2,893.7 L184.3,891.7 L184.4,889.7 L184.4,887.7 L184.5,885.7 L184.6,883.7 L184.6,881.7 L184.7,879.7 L184.7,877.7 L184.8,875.7 L184.8,873.7 L184.9,871.7 L185.0,869.7 L185.0,867.7 L185.0,865.7 L185.1,863.7 L185.1,861.7 L185.2,859.7 L185.2,857.7 L185.3,855.7 L185.3,853.7 L185.4,851.7 L185.4,849.7 L185.4,847.7 L185.5,845.7 L185.5,843.7 L185.6,841.7 L185.6,839.7 L185.6,837.7 L185.7,835.7 L185.7,833.7 L185.8,831.7 L185.8,829.7 L185.8,827.7 L185.9,825.7 L185.9,823.7 L186.0,821.7 L186.0,819.7 L186.0,817.7 L186.1,815.7 L186.1,813.7 L186.2,811.7 L186.2,809.7 L186.3,807.7 L186.3,805.7 L186.4,803.7 L186.4,801.7 L186.5,799.7 L186.5,797.7 L186.6,795.7 L186.6,793.7 L186.7,791.7 L186.7,789.7 L186.8,787.7 L186.8,785.7 L186.9,783.7 L187.0,781.7 L187.0,779.7 L187.1,777.7 L187.2,775.7 L187.2,773.7 L187.3,771.7 L187.4,769.7 L187.5,767.7 L187.5,765.7 L187.6,763.7 L187.7,761.7 L187.8,759.7 L187.9,757.7 L188.0,755.7 L188.1,753.7 L188.1,751.7 L188.2,749.7 L188.3,747.7 L188.4,745.7 L188.6,743.7 L188.7,741.7 L188.8,739.7 L188.9,737.7 L189.0,735.7 L189.1,733.7 L189.2,731.7 L189.3,729.7 L189.4,727.7 L189.6,725.7 L189.7,723.7 L189.8,721.7 L189.9,719.7 L190.0,717.7 L190.2,715.7 L190.3,713.7 L190.4,711.7 L190.5,709.7 L190.7,707.7 L190.8,705.7 L190.9,703.7 L191.1,701.7 L191.2,699.7 L191.3,697.7 L191.4,695.7 L191.6,693.7 L191.7,691.7 L191.8,689.7 L192.0,687.7 L192.1,685.7 L192.2,683.7 L192.4,681.7 L192.5,679.7 L192.6,677.7 L192.8,675.7 L192.9,673.7 L193.0,671.7 L193.2,669.8 L193.3,667.8 L193.5,665.8 L193.6,663.8 L193.8,661.8 L193.9,659.8 L194.1,657.8 L194.2,655.8 L194.4,653.8 L194.5,651.8 L194.7,649.8 L194.8,647.8 L195.0,645.8 L195.1,643.8 L195.3,641.8 L195.5,639.8 L195.6,637.8 L195.8,635.8 L195.9,633.8 L196.1,631.8 L196.3,629.8 L196.4,627.8 L196.6,625.8 L196.8,623.9 L197.0,621.9 L197.2,619.9 L197.4,617.9 L197.6,615.9 L197.8,613.9 L198.0,611.9 L198.2,609.9 L198.5,607.9 L198.7,606.0 L199.0,604.0 L199.3,602.0 L199.5,600.0 L199.8,598.0 L200.1,596.1 L200.4,594.1 L200.7,592.1 L201.1,590.1 L201.4,588.2 L201.7,586.2 L202.1,584.2 L202.5,582.3 L202.8,580.3 L203.2,578.3 L203.6,576.4 L204.0,574.4 L204.4,572.5 L204.9,570.5 L205.3,568.6 L205.8,566.6 L206.2,564.7 L206.7,562.7 L207.1,560.8 L207.6,558.8 L208.1,556.9 L208.6,554.9 L209.1,553.0 L209.6,551.1 L210.1,549.1 L210.6,547.2 L211.2,545.3 L211.7,543.3 L212.2,541.4 L212.7,539.5 L213.3,537.5 L213.8,535.6 L214.3,533.7 L214.8,531.8 L215.4,529.8 L215.9,527.9 L216.4,526.0 L216.9,524.0 L217.4,522.1 L217.9,520.2 L218.4,518.2 L218.9,516.3 L219.4,514.3 L219.8,512.4 L220.3,510.5 L220.7,508.5 L221.2,506.6 L221.6,504.6 L222.0,502.6 L222.4,500.7 L222.8,498.7 L223.2,496.8 L223.6,494.8 L223.9,492.8 L224.3,490.9 L224.7,488.9 L225.1,486.9 L225.4,485.0 L225.8,483.0 L226.2,481.0 L226.5,479.1 L226.9,477.1 L227.3,475.1 L227.7,473.2 L228.1,471.2 L228.5,469.3 L228.9,467.3 L229.4,465.4 L229.8,463.4 L230.3,461.5 L230.8,459.5 L231.3,457.6 L231.8,455.7 L232.4,453.8 L232.9,451.8 L233.5,449.9 L234.1,448.0 L234.7,446.1 L235.3,444.2 L236.0,442.4 L236.7,440.5 L237.4,438.6 L238.1,436.7 L238.8,434.9 L239.6,433.0 L240.4,431.2 L241.2,429.4 L242.0,427.6 L242.9,425.7 L243.7,423.9 L244.6,422.1 L245.5,420.4 L246.4,418.6 L247.3,416.8 L248.3,415.0 L249.2,413.3 L250.2,411.5 L251.2,409.8 L252.2,408.1 L253.2,406.3 L254.2,404.6 L255.3,402.9 L256.3,401.2 L257.4,399.5 L258.5,397.8 L259.6,396.2 L260.7,394.5 L261.8,392.8 L263.0,391.2 L264.1,389.6 L265.3,387.9 L266.4,386.3 L267.6,384.7 L268.8,383.1 L270.0,381.5 L271.2,379.9 L272.5,378.3 L273.7,376.7 L274.9,375.2 L276.2,373.6 L277.5,372.0 L278.7,370.5 L280.0,369.0 L281.3,367.4 L282.6,365.9 L283.9,364.4 L285.2,362.9 L286.5,361.4 L287.8,359.9 L289.2,358.4 L290.5,356.9 L291.9,355.4 L293.2,353.9 L294.6,352.5 L295.9,351.0 L297.3,349.6 L298.7,348.1 L300.1,346.7 L301.5,345.3 L302.9,343.8 L304.3,342.4 L305.7,341.1 L307.2,339.7 L308.6,338.3 L310.1,336.9 L311.6,335.6 L313.0,334.2 L314.5,332.9 L316.0,331.6 L317.5,330.3 L319.1,329.0 L320.6,327.7 L322.1,326.4 L323.6,325.1 L325.2,323.8 L326.7,322.6 L328.3,321.3 L329.8,320.0 L331.4,318.8 L333.0,317.6 L334.6,316.3 L336.2,315.1 L337.8,313.9 L339.4,312.7 L341.0,311.5 L342.6,310.4 L344.2,309.2 L345.9,308.0 L347.5,306.9 L349.1,305.8 L350.8,304.6 L352.5,303.5 L354.1,302.4 L355.8,301.3 L357.5,300.3 L359.2,299.2 L360.9,298.1 L362.6,297.1 L364.3,296.0 L366.0,295.0 L367.7,294.0 L369.5,293.0 L371.2,292.0 L372.9,291.0 L374.7,290.0 L376.4,289.1 L378.2,288.1 L380.0,287.2 L381.7,286.3 L383.5,285.4 L385.3,284.4 L387.1,283.5 L388.9,282.7 L390.7,281.8 L392.5,280.9 L394.3,280.0 L396.1,279.2 L397.9,278.3 L399.7,277.5 L401.5,276.6 L403.3,275.8 L405.2,275.0 L407.0,274.1 L408.8,273.3 L410.6,272.5 L412.5,271.7 L414.3,270.9 L416.1,270.1 L418.0,269.2 L419.8,268.4 L421.6,267.6 L423.5,266.8 L425.3,266.0 L427.1,265.2 L429.0,264.4 L430.8,263.6 L432.6,262.8 L434.5,262.0 L436.3,261.2 L438.1,260.4 L440.0,259.6 L441.8,258.8 L443.6,258.0 L445.5,257.2 L447.3,256.4 L449.1,255.6 L451.0,254.8 L452.8,254.0 L454.7,253.2 L456.5,252.5 L458.4,251.7 L460.2,250.9 L462.1,250.2 L463.9,249.5 L465.8,248.7 L467.6,248.0 L469.5,247.3 L471.4,246.6 L473.2,245.9 L475.1,245.2 L477.0,244.5 L478.9,243.9 L480.8,243.2 L482.7,242.6 L484.6,241.9 L486.5,241.3 L488.4,240.6 L490.2,240.0 L492.1,239.4 L494.0,238.8 L496.0,238.1 L497.9,237.5 L499.8,236.9 L501.7,236.3 L503.6,235.7 L505.5,235.1 L507.4,234.5 L509.3,233.9 L511.2,233.3 L513.1,232.7 L515.0,232.1 L516.9,231.5 L518.9,230.9 L520.8,230.3 L522.7,229.7 L524.6,229.1 L526.5,228.5 L528.4,228.0 L530.3,227.4 L532.3,226.8 L534.2,226.2 L536.1,225.6 L538.0,225.1 L539.9,224.5 L541.9,223.9 L543.8,223.4 L545.7,222.8 L547.6,222.2 L549.5,221.7 L551.5,221.1 L553.4,220.6 L555.3,220.1 L557.3,219.5 L559.2,219.0 L561.1,218.5 L563.0,217.9 L565.0,217.4 L566.9,216.9 L568.9,216.4 L570.8,215.9 L572.7,215.4 L574.7,214.9 L576.6,214.5 L578.6,214.0 L580.5,213.5 L582.5,213.1 L584.4,212.6 L586.3,212.2 L588.3,211.7 L590.3,211.3 L592.2,210.9 L594.2,210.5 L596.1,210.1 L598.1,209.7 L600.0,209.3 L602.0,208.9 L604.0,208.5 L605.9,208.1 L607.9,207.8 L609.9,207.4 L611.8,207.0 L613.8,206.7 L615.8,206.3 L617.7,206.0 L619.7,205.7 L621.7,205.3 L623.7,205.0 L625.6,204.7 L627.6,204.3 L629.6,204.0 L631.6,203.7 L633.5,203.4 L635.5,203.0 L637.5,202.7 L639.5,202.4 L641.4,202.1 L643.4,201.8 L645.4,201.5 L647.4,201.1 L649.4,200.8 L651.3,200.5 L653.3,200.2 L655.3,199.9 L657.3,199.5 L659.2,199.2 L661.2,198.9 L663.2,198.5 L665.1,198.2 L667.1,197.8 L669.1,197.5 L671.1,197.1 L673.0,196.8 L675.0,196.4 L677.0,196.0 L678.9,195.7 L680.9,195.3 L682.9,195.0 L684.8,194.6 L686.8,194.2 L688.8,193.8 L690.7,193.5 L692.7,193.1 L694.7,192.7 L696.6,192.4 L698.6,192.0 L700.6,191.6 L702.5,191.3 L704.5,190.9 L706.5,190.6 L708.4,190.2 L710.4,189.8 L712.4,189.5 L714.4,189.1 L716.3,188.8 L718.3,188.5 L720.3,188.1 L722.2,187.8 L724.2,187.5 L726.2,187.1 L728.2,186.8 L730.1,186.5 L732.1,186.2 L734.1,185.9 L736.1,185.5 L738.1,185.2 L740.0,185.0 L742.0,184.7 L744.0,184.4 L746.0,184.1 L748.0,183.8 L749.9,183.5 L751.9,183.3 L753.9,183.0 L755.9,182.7 L757.9,182.5 L759.9,182.2 L761.8,181.9 L763.8,181.7 L765.8,181.4 L767.8,181.2 L769.8,181.0 L771.8,180.7 L773.8,180.5 L775.7,180.2 L777.7,180.0 L779.7,179.8 L781.7,179.5 L783.7,179.3 L785.7,179.1 L787.7,178.8 L789.7,178.6 L791.6,178.4 L793.6,178.1 L795.6,177.9 L797.6,177.7 L799.6,177.4 L801.6,177.2 L803.6,177.0 L805.6,176.7 L807.6,176.5 L809.5,176.3 L811.5,176.0 L813.5,175.8 L815.5,175.6 L817.5,175.3 L819.5,175.1 L821.5,174.9 L823.5,174.6 L825.4,174.4 L827.4,174.1 L829.4,173.9 L831.4,173.7 L833.4,173.4 L835.4,173.2 L837.4,172.9 L839.3,172.7 L841.3,172.4 L843.3,172.2 L845.3,171.9 L847.3,171.7 L849.3,171.4 L851.3,171.2 L853.3,170.9 L855.2,170.7 L857.2,170.4 L859.2,170.2 L861.2,169.9 L863.2,169.7 L865.2,169.4 L867.1,169.2 L869.1,168.9 L871.1,168.6 L873.1,168.4 L875.1,168.1 L877.1,167.9 L879.1,167.6 L881.0,167.4 L883.0,167.1 L885.0,166.9 L887.0,166.6 L889.0,166.4 L891.0,166.1 L893.0,165.8 L894.9,165.6 L896.9,165.3 L898.9,165.1 L900.9,164.8 L902.9,164.6 L904.9,164.4 L906.9,164.1 L908.8,163.9 L910.8,163.6 L912.8,163.4 L914.8,163.2 L916.8,162.9 L918.8,162.7 L920.8,162.5 L922.8,162.2 L924.8,162.0 L926.7,161.8 L928.7,161.6 L930.7,161.4 L932.7,161.2 L934.7,161.0 L936.7,160.8 L938.7,160.6 L940.7,160.4 L942.7,160.2 L944.7,160.0 L946.7,159.8 L948.6,159.7 L950.6,159.5 L952.6,159.3 L954.6,159.2 L956.6,159.0 L958.6,158.8 L960.6,158.7 L962.6,158.5 L964.6,158.3 L966.6,158.2 L968.6,158.0 L970.6,157.9 L972.6,157.7 L974.6,157.5 L976.6,157.4 L978.6,157.2 L980.6,157.1 L982.6,156.9 L984.6,156.7 L986.5,156.6 L988.5,156.4 L990.5,156.2 L992.5,156.1 L994.5,155.9 L996.5,155.7 L998.5,155.5 L1000.5,155.3 L1002.5,155.2 L1004.5,155.0 L1006.5,154.8 L1008.5,154.6 L1010.5,154.4 L1012.5,154.2 L1014.5,154.0 L1016.4,153.8 L1018.4,153.7 L1020.4,153.5 L1022.4,153.3 L1024.4,153.1 L1026.4,152.9 L1028.4,152.7 L1030.4,152.5 L1032.4,152.3 L1034.4,152.1 L1036.4,151.9 L1038.4,151.7 L1040.4,151.6 L1042.3,151.4 L1044.3,151.2 L1046.3,151.0 L1048.3,150.8 L1050.3,150.6 L1052.3,150.4 L1054.3,150.3 L1056.3,150.1 L1058.3,149.9 L1060.3,149.7 L1062.3,149.5 L1064.3,149.4 L1066.3,149.2 L1068.3,149.0 L1070.3,148.8 L1072.3,148.7 L1074.2,148.5 L1076.2,148.3 L1078.2,148.2 L1080.2,148.0 L1082.2,147.9 L1084.2,147.7 L1086.2,147.5 L1088.2,147.4 L1090.2,147.2 L1092.2,147.1 L1094.2,146.9 L1096.2,146.8 L1098.2,146.6 L1100.2,146.5 L1102.2,146.3 L1104.2,146.2 L1106.2,146.1 L1108.2,145.9 L1110.2,145.8 L1112.2,145.6 L1114.2,145.5 L1116.2,145.4 L1118.2,145.2 L1120.2,145.1 L1122.2,145.0 L1124.1,144.8 L1126.1,144.7 L1128.1,144.6 L1130.1,144.4 L1132.1,144.3 L1134.1,144.2 L1136.1,144.1 L1138.1,143.9 L1140.1,143.8 L1142.1,143.7 L1144.1,143.5 L1146.1,143.4 L1148.1,143.3 L1150.1,143.2 L1152.1,143.0 L1154.1,142.9 L1156.1,142.8 L1158.1,142.6 L1160.1,142.5 L1162.1,142.4 L1164.1,142.3 L1166.1,142.1 L1168.1,142.0 L1170.1,141.9 L1172.1,141.7 L1174.1,141.6 L1176.1,141.5 L1178.1,141.4 L1180.1,141.2 L1182.1,141.1 L1184.1,141.0 L1186.1,140.9 L1188.1,140.7 L1190.1,140.6 L1192.1,140.5 L1194.1,140.4 L1196.1,140.2 L1198.1,140.1 L1200.1,140.0 L1202.1,139.9 L1204.1,139.7 L1206.0,139.6 L1208.0,139.5 L1210.0,139.4 L1212.0,139.3 L1214.0,139.2 L1216.0,139.0 L1218.0,138.9 L1220.0,138.8 L1222.0,138.7 L1224.0,138.6 L1226.0,138.4 L1228.0,138.3 L1230.0,138.2 L1232.0,138.1 L1234.0,138.0 L1236.0,137.9 L1238.0,137.8 L1240.0,137.7 L1242.0,137.5 L1244.0,137.4 L1246.0,137.3 L1248.0,137.2 L1250.0,137.1 L1252.0,137.0 L1254.0,136.9 L1256.0,136.8 L1258.0,136.7 L1260.0,136.6 L1262.0,136.5 L1264.0,136.4 L1266.0,136.3 L1268.0,136.2 L1270.0,136.1 L1272.0,136.0 L1274.0,135.9 L1276.0,135.7 L1278.0,135.6 L1280.0,135.5 L1282.0,135.4 L1284.0,135.3 L1286.0,135.2 L1288.0,135.2 L1290.0,135.1 L1292.0,135.0 L1294.0,134.9 L1296.0,134.8 L1298.0,134.7 L1300.0,134.6 L1302.0,134.5 L1304.0,134.4 L1306.0,134.3 L1308.0,134.2 L1310.0,134.1 L1312.0,134.0 L1314.0,133.9 L1316.0,133.8 L1318.0,133.7 L1320.0,133.6 L1322.0,133.5 L1324.0,133.4 L1326.0,133.3 L1328.0,133.3 L1330.0,133.2 L1332.0,133.1 L1334.0,133.0 L1336.0,132.9 L1338.0,132.8 L1340.0,132.7 L1342.0,132.6 L1344.0,132.5 L1346.0,132.4 L1348.0,132.3 L1350.0,132.3 L1352.0,132.2 L1354.0,132.1 L1356.0,132.0 L1358.0,131.9 L1360.0,131.8 L1362.0,131.7 L1364.0,131.6 L1366.0,131.5 L1368.0,131.4 L1370.0,131.4 L1372.0,131.3 L1374.0,131.2 L1376.0,131.1 L1378.0,131.0 L1380.0,130.9 L1382.0,130.8 L1384.0,130.7 L1386.0,130.6 L1388.0,130.5 L1390.0,130.5 L1392.0,130.4 L1394.0,130.3 L1396.0,130.2 L1398.0,130.1 L1400.0,130.0 L1402.0,129.9 L1404.0,129.8 L1406.0,129.7 L1408.0,129.6 L1410.0,129.6 L1412.0,129.5 L1414.0,129.4 L1416.0,129.3 L1418.0,129.2 L1420.0,129.1 L1422.0,129.0 L1424.0,128.9 L1426.0,128.8 L1428.0,128.7 L1430.0,128.7 L1432.0,128.6 L1434.0,128.5 L1436.0,128.4 L1438.0,128.3 L1440.0,128.2 L1442.0,128.1 L1444.0,128.0 L1446.0,127.9 L1448.0,127.9 L1450.0,127.8 L1452.0,127.7 L1454.0,127.6 L1456.0,127.5 L1458.0,127.4 L1460.0,127.3 L1462.0,127.3 L1464.0,127.2 L1466.0,127.1 L1467.9,127.0 L1469.9,126.9 L1471.9,126.8 L1473.9,126.7 L1475.9,126.7 L1477.9,126.6 L1479.9,126.5 L1481.9,126.4 L1483.9,126.3 L1485.9,126.3 L1487.9,126.2 L1489.9,126.1 L1491.9,126.0 L1493.9,125.9 L1495.9,125.9 L1497.9,125.8 L1499.9,125.7 L1501.9,125.6 L1503.9,125.5 L1505.9,125.5 L1507.9,125.4 L1509.9,125.3 L1511.9,125.2 L1513.9,125.2 L1515.9,125.1 L1517.9,125.0 L1519.9,125.0 L1521.9,124.9 L1524.0,124.8 L1526.0,124.7 L1528.0,124.7 L1530.0,124.6 L1532.0,124.5 L1534.0,124.5 L1536.0,124.4 L1538.0,124.3 L1540.0,124.3 L1542.0,124.2 L1544.0,124.1 L1546.0,124.1 L1548.0,124.0 L1550.0,124.0 L1552.0,123.9 L1554.0,123.8 L1556.0,123.8 L1558.0,123.7 L1560.0,123.6 L1562.0,123.6 L1564.0,123.5 L1566.0,123.5 L1568.0,123.4 L1570.0,123.3 L1572.0,123.3 L1574.0,123.2 L1576.0,123.2 L1578.0,123.1 L1580.0,123.1 L1582.0,123.0 L1584.0,122.9 L1586.0,122.9 L1588.0,122.8 L1590.0,122.8 L1592.0,122.7 L1594.0,122.7 L1596.0,122.6 L1598.0,122.6 L1600.0,122.5 L1602.0,122.5 L1604.0,122.4 L1606.0,122.4 L1608.0,122.3 L1610.0,122.3 L1612.0,122.2 L1614.0,122.1 L1616.0,122.1 L1618.0,122.0 L1620.0,122.0 L1622.0,121.9 L1624.0,121.9 L1626.0,121.8 L1628.0,121.8 L1630.0,121.7 L1632.0,121.7 L1634.0,121.6 L1636.0,121.6 L1638.0,121.5 L1640.0,121.5 L1642.0,121.4 L1644.0,121.4 L1646.0,121.3 L1648.0,121.3 L1650.0,121.2 L1652.0,121.2 L1653.6,121.1" stroke="#FF8000"/>
</g>
<text x="149" y="1082.1" font-size="51" text-anchor="end">0.0</text>
<text x="149" y="979.6" font-size="51" text-anchor="end">0.1</text>
<text x="149" y="877.1" font-size="51" text-anchor="end">0.2</text>
<text x="149" y="774.6" font-size="51" text-anchor="end">0.3</text>
<text x="149" y="672.1" font-size="51" text-anchor="end">0.4</text>
<text x="149" y="569.6" font-size="51" text-anchor="end">0.5</text>
<text x="149" y="467.1" font-size="51" text-anchor="end">0.6</text>
<text x="149" y="364.6" font-size="51" text-anchor="end">0.7</text>
<text x="149" y="262.1" font-size="51" text-anchor="end">0.8</text>
<text x="149" y="159.6" font-size="51" text-anchor="end">0.9</text>
<text x="149" y="57.1" font-size="51" text-anchor="end">1.0</text>
<text x="173.7" y="1130.5" font-size="51" text-anchor="middle">0</text>
<text x="469.4" y="1130.5" font-size="51" text-anchor="middle">200</text>
<text x="765.1" y="1130.5" font-size="51" text-anchor="middle">400</text>
<text x="1060.8" y="1130.5" font-size="51" text-anchor="middle">600</text>
<text x="1356.5" y="1130.5" font-size="51" text-anchor="middle">800</text>
<text x="1652.2" y="1130.5" font-size="51" text-anchor="middle">1000</text>
<text x="897" y="110" font-size="51" text-anchor="middle">Cement D</text>
<text x="936.7" y="1181.5" font-size="51" text-anchor="middle" textLength="386">Hydartion time (h)</text>
<text transform="translate(64.3,594) rotate(-90)" x="0" y="0" font-size="51" text-anchor="middle">Hydration degree(<tspan class="cjk" dy="2.5">—</tspan><tspan dy="-2.5">)</tspan></text>
<text x="1067.5" y="542" font-size="47" textLength="358">Experiment values:</text>
<polygon points="1106.8,583.9 1132.2,583.9 1119.5,606.1" fill="#00FFFF"/>
<text x="1182" y="606.6" font-size="47">Blaine<tspan dx="-3.5">=200</tspan><tspan dx="-1.5">m</tspan><tspan dx="0.8" dy="-24.5" font-size="27">2</tspan><tspan dy="24.5" dx="-1">/kg</tspan></text>
<rect x="1109.8" y="645.4" width="18" height="18" fill="#FF80FF"/>
<text x="1182" y="668.9" font-size="47">Blaine<tspan dx="-3.5">=350</tspan><tspan dx="-1.5">m</tspan><tspan dx="0.8" dy="-24.5" font-size="27">2</tspan><tspan dy="24.5" dx="-1">/kg</tspan></text>
<polygon points="1119.5,704.8 1132.2,727.0 1106.8,727.0" fill="#FF8000"/>
<text x="1182" y="732.9" font-size="47">Blaine<tspan dx="-3.5">=500</tspan><tspan dx="-1.5">m</tspan><tspan dx="0.8" dy="-24.5" font-size="27">2</tspan><tspan dy="24.5" dx="-1">/kg</tspan></text>
<text x="1067.5" y="790.4" font-size="47" textLength="320">Predicted results:</text>
<path d="M1066.6,840.2 H1174.2" stroke="#00FFFF" stroke-width="4" stroke-dasharray="28.3 11.9 7.7 11.7 28.4 10.4 10 100"/>
<text x="1182" y="853.3" font-size="47">Blaine<tspan dx="-3.5">=200</tspan><tspan dx="-1.5">m</tspan><tspan dx="0.8" dy="-24.5" font-size="27">2</tspan><tspan dy="24.5" dx="-1">/kg</tspan></text>
<path d="M1066.6,904.7 H1174.2" stroke="#FF80FF" stroke-width="4" stroke-dasharray="24 22.5 25.3 22.2 14 100"/>
<text x="1182" y="918.0" font-size="47">Blaine<tspan dx="-3.5">=350</tspan><tspan dx="-1.5">m</tspan><tspan dx="0.8" dy="-24.5" font-size="27">2</tspan><tspan dy="24.5" dx="-1">/kg</tspan></text>
<path d="M1066.6,968.8 H1174.2" stroke="#FF8000" stroke-width="4"/>
<text x="1182" y="982.4" font-size="47">Blaine<tspan dx="-3.5">=500</tspan><tspan dx="-1.5">m</tspan><tspan dx="0.8" dy="-24.5" font-size="27">2</tspan><tspan dy="24.5" dx="-1">/kg</tspan></text>
</svg></body></html>
